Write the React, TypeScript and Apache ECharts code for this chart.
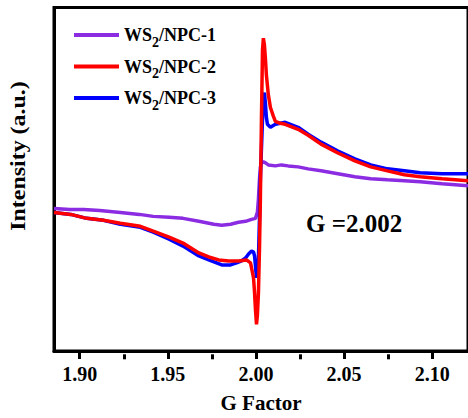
import React, { useEffect, useRef } from 'react';
import * as echarts from 'echarts';

// G factor (x) and intensity in arbitrary units (y)
const npc1G = [1.8854, 1.8944, 1.9023, 1.9113, 1.9231, 1.9338, 1.9417, 1.9507, 1.9586, 1.9676, 1.9761, 1.9806, 1.9856, 1.9901, 1.9941, 1.9975, 1.9997, 2.0008, 2.0014, 2.0020, 2.0025, 2.0031, 2.0042, 2.0054, 2.0070, 2.0110, 2.0144, 2.0183, 2.0239, 2.0296, 2.0369, 2.0465, 2.0561, 2.0651, 2.0746, 2.0842, 2.0932, 2.1056, 2.1203];
const npc1I = [144, 143, 143, 142, 140, 138, 136, 135, 134, 131, 128, 127, 128, 130, 131, 133, 134, 140, 154, 174, 186, 190, 191, 190, 188, 187, 188, 187, 186, 184, 182, 179, 176, 174, 173, 172, 171, 169, 167];

const npc2G = [1.8854, 1.8949, 1.9039, 1.9135, 1.9231, 1.9344, 1.9417, 1.9507, 1.9586, 1.9676, 1.9732, 1.9789, 1.9845, 1.9901, 1.9946, 1.9969, 1.9986, 1.9992, 1.9997, 2.0003, 2.0008, 2.0014, 2.0020, 2.0025, 2.0031, 2.0037, 2.0042, 2.0048, 2.0054, 2.0059, 2.0070, 2.0082, 2.0099, 2.0110, 2.0138, 2.0166, 2.0239, 2.0296, 2.0369, 2.0465, 2.0561, 2.0651, 2.0746, 2.0842, 2.0932, 2.1056, 2.1203];
const npc2I = [140, 138, 134, 132, 129, 126, 121, 115, 109, 99, 95, 92, 91, 91, 92, 89, 74, 59, 42, 27, 36, 59, 104, 154, 234, 304, 316, 309, 294, 279, 259, 246, 237, 232, 230, 229, 224, 218, 209, 200, 192, 186, 182, 178, 176, 174, 172];

const npc3G = [1.8854, 1.8949, 1.9039, 1.9135, 1.9231, 1.9344, 1.9417, 1.9507, 1.9586, 1.9676, 1.9732, 1.9806, 1.9856, 1.9890, 1.9918, 1.9941, 1.9958, 1.9975, 1.9986, 1.9992, 1.9997, 2.0003, 2.0008, 2.0014, 2.0020, 2.0025, 2.0031, 2.0037, 2.0042, 2.0048, 2.0054, 2.0059, 2.0065, 2.0082, 2.0110, 2.0166, 2.0239, 2.0296, 2.0369, 2.0465, 2.0561, 2.0651, 2.0746, 2.0842, 2.0932, 2.1056, 2.1203];
const npc3I = [140, 138, 134, 132, 128, 125, 120, 113, 106, 96, 92, 87, 87, 89, 91, 94, 98, 101, 100, 96, 86, 74, 79, 94, 134, 174, 204, 234, 254, 261, 249, 236, 229, 226, 229, 231, 226, 219, 211, 202, 194, 188, 184, 182, 180, 179, 179];

const seriesNames = ['WS2/NPC-1', 'WS2/NPC-2', 'WS2/NPC-3'];
const majorTicks = [1.9, 1.95, 2.0, 2.05, 2.1];
const minorTicks = [1.925, 1.975, 2.025, 2.075];
const xMin = 1.8854;
const xMax = 2.1203;
const yMin = 0;
const yMax = 347;
const annotation = 'G =2.002';
const xTitle = 'G Factor';
const yTitle = 'Intensity (a.u.)';

const serif = "'Liberation Serif', 'Times New Roman', serif";

const zip = (g: number[], v: number[]) => g.map((x, i) => [x, v[i]]);

export default function App() {
  const ref = useRef<HTMLDivElement>(null);
  useEffect(() => {
    document.body.style.margin = '0';
    const chart = echarts.init(ref.current!, null, { renderer: 'svg' });
    const black = { color: '#000', width: 3 };
    const gridTop = 7.5;
    const gridBottom = 63.7;
    const gridHeight = 418 - gridTop - gridBottom;
    chart.setOption({
      animation: false,
      grid: {
        left: 54, right: -3, top: gridTop, bottom: gridBottom, containLabel: false,
        show: true, borderColor: '#000', borderWidth: 3, backgroundColor: 'transparent',
      },
      xAxis: [
        {
          type: 'value', min: xMin, max: xMax, position: 'bottom',
          axisLine: { show: true, onZero: false, lineStyle: black },
          axisTick: { show: true, length: 8, lineStyle: black, customValues: majorTicks },
          axisLabel: {
            customValues: majorTicks, formatter: (v: number) => v.toFixed(2), margin: 13,
            fontSize: 20, fontWeight: 'bold', fontFamily: serif, color: '#000',
          },
          splitLine: { show: false },
          name: xTitle, nameLocation: 'middle', nameGap: 41,
          nameTextStyle: { fontSize: 21, fontWeight: 'bold', fontFamily: serif, color: '#000' },
        },
        {
          type: 'value', min: xMin, max: xMax, position: 'top', offset: -gridHeight,
          axisLine: { show: false, onZero: false },
          axisTick: { show: true, inside: true, length: 5, lineStyle: black, customValues: minorTicks },
          axisLabel: { show: false },
          splitLine: { show: false },
        },
      ],
      yAxis: {
        type: 'value', min: yMin, max: yMax,
        axisLine: { show: true, onZero: false, lineStyle: black },
        axisTick: { show: false }, axisLabel: { show: false }, splitLine: { show: false },
      },
      legend: {
        orient: 'vertical', left: 74, top: 21, padding: 0, itemGap: 3.5,
        itemWidth: 45, itemHeight: 4, icon: 'rect',
        data: seriesNames,
        formatter: (name: string) => `{a|WS}{s|2}{a|${name.slice(3)}}`,
        textStyle: {
          rich: {
            a: { fontSize: 18, fontWeight: 'bold', fontFamily: serif, color: '#000', lineHeight: 20 },
            s: { fontSize: 14, fontWeight: 'bold', fontFamily: serif, color: '#000', lineHeight: 20, padding: [14, 0, 0, 0] },
          },
        },
      },
      graphic: [
        {
          type: 'text', x: 18, y: 156, rotation: Math.PI / 2, scaleX: 1.14,
          style: { text: yTitle, fontSize: 21, fontWeight: 'bold', fontFamily: serif, fill: '#000', align: 'center', verticalAlign: 'middle' },
        },
        {
          type: 'text', x: 306, y: 223,
          style: { text: annotation, fontSize: 25, fontWeight: 'bold', fontFamily: serif, fill: '#000', align: 'left', verticalAlign: 'middle' },
        },
      ],
      series: [
        { type: 'line', name: seriesNames[0], data: zip(npc1G, npc1I), symbol: 'none', showSymbol: false, color: '#8B2BE2', lineStyle: { width: 3.5 } },
        { type: 'line', name: seriesNames[2], data: zip(npc3G, npc3I), symbol: 'none', showSymbol: false, color: '#0000FF', lineStyle: { width: 3.5 } },
        { type: 'line', name: seriesNames[1], data: zip(npc2G, npc2I), symbol: 'none', showSymbol: false, color: '#FF0000', lineStyle: { width: 3.5 } },
      ],
    });
    return () => chart.dispose();
  }, []);
  return <div ref={ref} style={{ width: 468, height: 418 }} />;
}
